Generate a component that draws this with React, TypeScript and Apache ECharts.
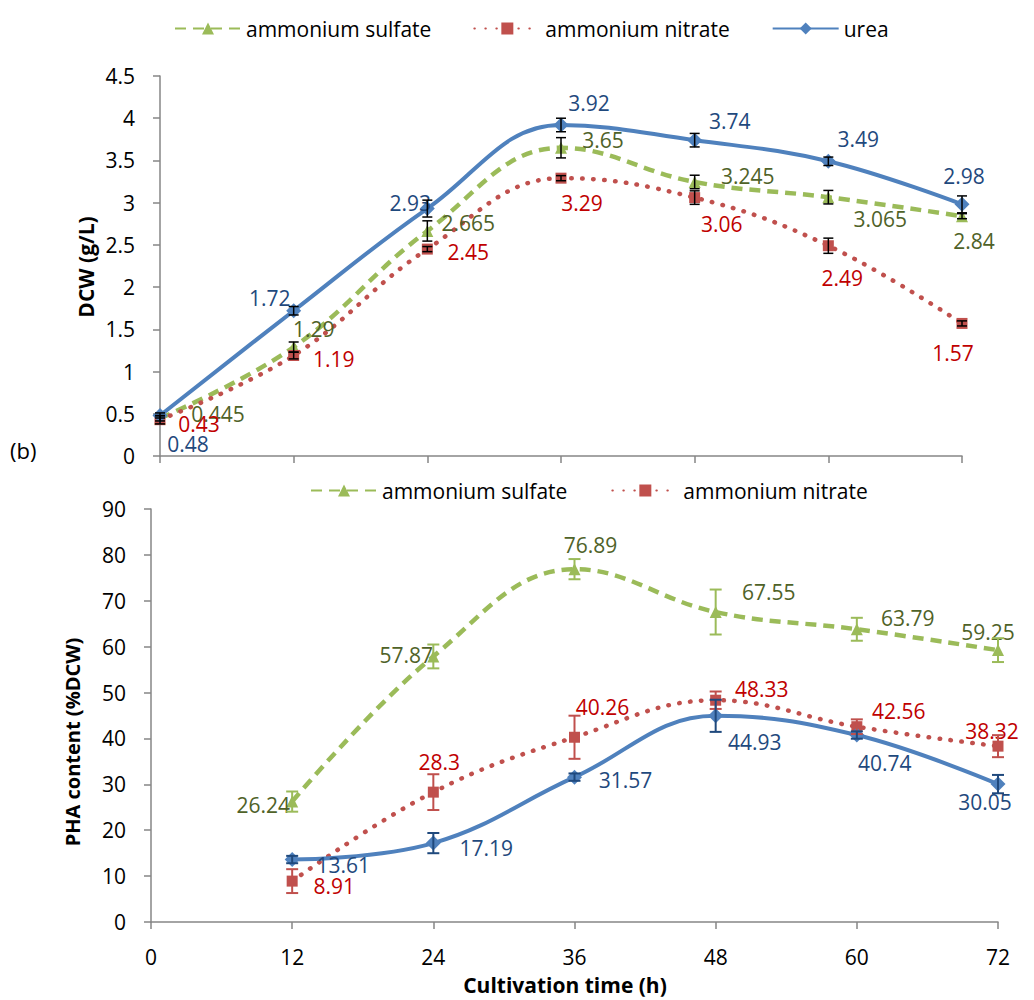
import React, { useEffect, useRef } from "react";
import * as echarts from "echarts";

// ---------- data ----------
const dcwTimes = [0, 12, 24, 36, 48, 60, 72];
const phaTimes = [12, 24, 36, 48, 60, 72];

const dcwSulfate = [0.445, 1.29, 2.665, 3.65, 3.245, 3.065, 2.84];
const dcwNitrate = [0.43, 1.19, 2.45, 3.29, 3.06, 2.49, 1.57];
const dcwUrea = [0.48, 1.72, 2.93, 3.92, 3.74, 3.49, 2.98];

const dcwSulfateErr = [0.03, 0.06, 0.12, 0.12, 0.08, 0.08, 0.03];
const dcwNitrateErr = [0.05, 0.04, 0.03, 0.03, 0.08, 0.09, 0.03];
const dcwUreaErr = [0.03, 0.05, 0.1, 0.08, 0.08, 0.05, 0.1];

const phaSulfate = [26.24, 57.87, 76.89, 67.55, 63.79, 59.25];
const phaNitrate = [8.91, 28.3, 40.26, 48.33, 42.56, 38.32];
const phaUrea = [13.61, 17.19, 31.57, 44.93, 40.74, 30.05];

const phaSulfateErr = [2.2, 2.6, 2.2, 4.9, 2.5, 2.6];
const phaNitrateErr = [2.6, 3.9, 4.7, 1.9, 1.6, 2.4];
const phaUreaErr = [0.8, 2.2, 0.8, 3.5, 0.8, 2.0];

const dcwTicks = { min: 0, max: 4.5, interval: 0.5 };
const phaTicks = { min: 0, max: 90, interval: 10 };
const timeTicks = { min: 0, max: 72, interval: 12 };

const seriesNames = ["ammonium sulfate", "ammonium nitrate", "urea"];

// ---------- label placement (offsets from marker centre, px) ----------
const dcwSulfateOff = [[58, -4], [20, -18], [41, -8], [42, -8], [53, -6], [52, 22], [12, 25]];
const dcwNitrateOff = [[39, 4], [40, 3], [41, 3], [21, 25], [27, 26], [14, 32], [-9, 30]];
const dcwUreaOff = [[28, 29], [-24, -13], [-17, -6], [28, -22], [35, -19], [30, -22], [2, -28]];

const phaSulfateOff = [[-29, 3], [-27, -1], [16, -24], [53, -20], [51, -11], [-10, -18]];
const phaNitrateOff = [[42, 5], [6, -30], [28, -30], [46, -11], [42, -16], [-6, -15]];
const phaUreaOff = [[51, 5], [53, 5], [51, 3], [39, 26], [28, 28], [-13, 18]];

// ---------- styles ----------
const FONT = "Open Sans";
const C_SULF = "#9BBB59";
const C_NITR = "#C0504D";
const C_UREA = "#4F81BD";
const L_SULF = "#4F6228";
const L_NITR = "#C00000";
const L_UREA = "#1F497D";
const AXIS_C = "#868686";
const NUM_SIZE = 21;

function lineSeries(
  name: string,
  xs: number[],
  ys: number[],
  offs: number[][],
  gi: number,
  kind: "sulf" | "nitr" | "urea"
) {
  const color = kind === "sulf" ? C_SULF : kind === "nitr" ? C_NITR : C_UREA;
  const lcolor = kind === "sulf" ? L_SULF : kind === "nitr" ? L_NITR : L_UREA;
  const symbol = kind === "sulf" ? "triangle" : kind === "nitr" ? "rect" : "diamond";
  const symbolSize = kind === "sulf" ? 12 : kind === "nitr" ? 11 : 15;
  const lineStyle: any =
    kind === "sulf"
      ? { color, width: 4.5, type: [11, 7] }
      : kind === "nitr"
      ? { color, width: 4.5, type: [0.5, 10.5], cap: "round" }
      : { color, width: 4 };
  return {
    type: "line",
    name,
    xAxisIndex: gi,
    yAxisIndex: gi,
    smooth: 0.4,
    symbol,
    symbolSize,
    itemStyle: { color },
    lineStyle,
    z: 2,
    label: {
      show: true,
      position: "inside",
      fontFamily: FONT,
      fontSize: NUM_SIZE,
      color: lcolor,
      formatter: (p: any) => String(p.value[1]),
    },
    data: ys.map((v, i) => ({
      value: [xs[i], v],
      label: { offset: offs[i] },
    })),
  };
}

function errSeries(
  id: string,
  xs: number[],
  ys: number[],
  errs: number[],
  gi: number,
  color: string,
  capW: number,
  lw: number
) {
  return {
    type: "custom",
    name: id,
    xAxisIndex: gi,
    yAxisIndex: gi,
    z: 3,
    silent: true,
    encode: { x: 0, y: 1 },
    data: ys.map((v, i) => [xs[i], v, errs[i]]),
    renderItem: (params: any, api: any) => {
      const x = api.value(0);
      const y = api.value(1);
      const e = api.value(2);
      const t = api.coord([x, y + e]);
      const b = api.coord([x, y - e]);
      const h = capW / 2;
      const st = { stroke: color, lineWidth: lw };
      return {
        type: "group",
        children: [
          { type: "line", shape: { x1: t[0], y1: t[1], x2: b[0], y2: b[1] }, style: st },
          { type: "line", shape: { x1: t[0] - h, y1: t[1], x2: t[0] + h, y2: t[1] }, style: st },
          { type: "line", shape: { x1: b[0] - h, y1: b[1], x2: b[0] + h, y2: b[1] }, style: st },
        ],
      };
    },
  };
}

export default function App() {
  const ref = useRef<HTMLDivElement>(null);

  useEffect(() => {
    if (!ref.current) return;
    const chart = echarts.init(ref.current, undefined, { renderer: "svg" });

    const axisLabel = { fontFamily: FONT, fontSize: NUM_SIZE, color: "#000" };
    const axisLine = { show: true, lineStyle: { color: AXIS_C, width: 1.5 } };
    const axisTick = { show: true, inside: false, length: 7, lineStyle: { color: AXIS_C, width: 1.5 } };
    const legendText = { fontFamily: FONT, fontSize: 21, color: "#000" };

    const option: any = {
      animation: false,
      backgroundColor: "#fff",
      textStyle: { fontFamily: FONT },
      legend: [
        {
          data: seriesNames,
          left: 169,
          top: 13,
          itemWidth: 66,
          itemHeight: 15,
          itemGap: 42,
          textStyle: legendText,
        },
        {
          data: seriesNames.slice(0, 2),
          left: 305,
          top: 475,
          itemWidth: 66,
          itemHeight: 15,
          itemGap: 44,
          textStyle: legendText,
        },
      ],
      grid: [
        { left: 160, right: 72, top: 76, bottom: 544 },
        { left: 151, right: 36, top: 509, bottom: 78 },
      ],
      xAxis: [
        {
          type: "value",
          gridIndex: 0,
          ...timeTicks,
          axisLabel: { show: false },
          axisLine,
          axisTick,
          splitLine: { show: false },
        },
        {
          type: "value",
          gridIndex: 1,
          ...timeTicks,
          axisLabel: { ...axisLabel, margin: 24 },
          axisLine,
          axisTick,
          splitLine: { show: false },
        },
      ],
      yAxis: [
        {
          type: "value",
          gridIndex: 0,
          ...dcwTicks,
          axisLabel: { ...axisLabel, margin: 25 },
          axisLine,
          axisTick,
          splitLine: { show: false },
        },
        {
          type: "value",
          gridIndex: 1,
          ...phaTicks,
          axisLabel: { ...axisLabel, margin: 25 },
          axisLine,
          axisTick,
          splitLine: { show: false },
        },
      ],
      series: [
        lineSeries(seriesNames[0], dcwTimes, dcwSulfate, dcwSulfateOff, 0, "sulf"),
        lineSeries(seriesNames[1], dcwTimes, dcwNitrate, dcwNitrateOff, 0, "nitr"),
        lineSeries(seriesNames[2], dcwTimes, dcwUrea, dcwUreaOff, 0, "urea"),
        errSeries("e1", dcwTimes, dcwSulfate, dcwSulfateErr, 0, "#000", 10, 1.5),
        errSeries("e2", dcwTimes, dcwNitrate, dcwNitrateErr, 0, "#000", 10, 1.5),
        errSeries("e3", dcwTimes, dcwUrea, dcwUreaErr, 0, "#000", 10, 1.5),
        lineSeries(seriesNames[0], phaTimes, phaSulfate, phaSulfateOff, 1, "sulf"),
        lineSeries(seriesNames[1], phaTimes, phaNitrate, phaNitrateOff, 1, "nitr"),
        lineSeries(seriesNames[2], phaTimes, phaUrea, phaUreaOff, 1, "urea"),
        errSeries("e4", phaTimes, phaSulfate, phaSulfateErr, 1, C_SULF, 12, 2),
        errSeries("e5", phaTimes, phaNitrate, phaNitrateErr, 1, C_NITR, 12, 2),
        errSeries("e6", phaTimes, phaUrea, phaUreaErr, 1, L_UREA, 12, 2),
      ],
      graphic: [
        {
          type: "text",
          x: 86,
          y: 267,
          rotation: Math.PI / 2,
          style: {
            text: "DCW (g/L)",
            fontFamily: FONT,
            fontSize: 21,
            fontWeight: "bold",
            fill: "#000",
            align: "center",
            verticalAlign: "middle",
          },
        },
        {
          type: "text",
          x: 72,
          y: 742,
          rotation: Math.PI / 2,
          style: {
            text: "PHA content (%DCW)",
            fontFamily: FONT,
            fontSize: 20,
            fontWeight: "bold",
            fill: "#000",
            align: "center",
            verticalAlign: "middle",
          },
        },
        {
          type: "text",
          x: 565,
          y: 985,
          style: {
            text: "Cultivation time (h)",
            fontFamily: FONT,
            fontSize: 21,
            fontWeight: "bold",
            fill: "#000",
            align: "center",
            verticalAlign: "middle",
          },
        },
        {
          type: "text",
          x: 10,
          y: 450,
          style: {
            text: "(b)",
            fontFamily: FONT,
            fontSize: 22,
            fill: "#000",
            align: "left",
            verticalAlign: "middle",
          },
        },
      ],
    };

    chart.setOption(option);
    return () => chart.dispose();
  }, []);

  return (
    <div
      ref={ref}
      style={{ position: "absolute", left: 0, top: 0, width: 1034, height: 1000 }}
    />
  );
}
